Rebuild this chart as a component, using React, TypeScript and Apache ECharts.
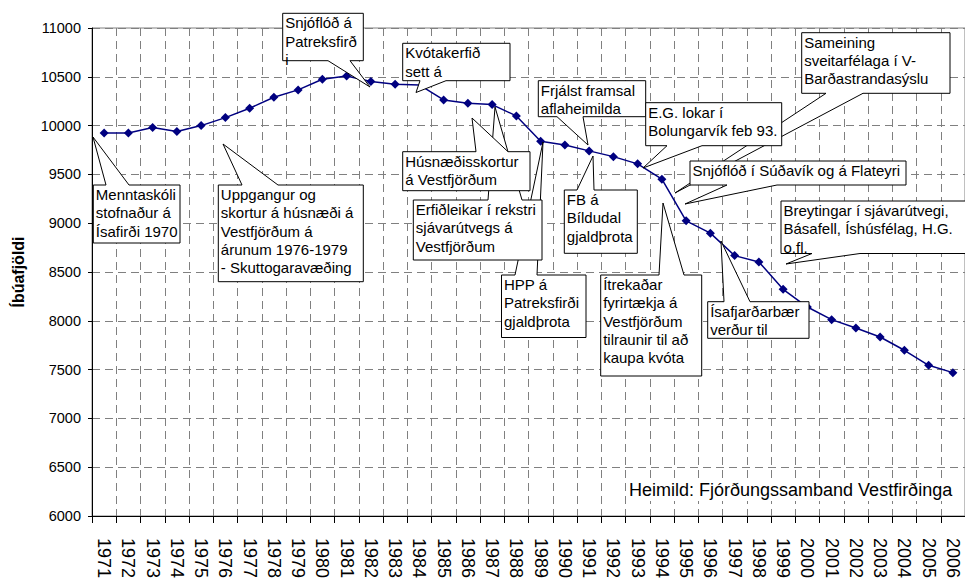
import React, { useEffect, useRef } from "react";
import * as echarts from "echarts";

const years = [
  "1971", "1972", "1973", "1974", "1975", "1976", "1977", "1978", "1979", "1980",
  "1981", "1982", "1983", "1984", "1985", "1986", "1987", "1988", "1989", "1990",
  "1991", "1992", "1993", "1994", "1995", "1996", "1997", "1998", "1999", "2000",
  "2001", "2002", "2003", "2004", "2005", "2006",
];

const population = [
  9925, 9925, 9980, 9939, 10000, 10082, 10178, 10291, 10366, 10475,
  10509, 10451, 10424, 10417, 10263, 10229, 10215, 10099, 9840, 9802,
  9741, 9682, 9608, 9451, 9024, 8898, 8668, 8603, 8323, 8141,
  8012, 7926, 7834, 7698, 7544, 7469,
];

// year whose marker is hidden beneath a callout pointer in the original
const hiddenMarkerYears = ["1984"];

const yTicks = { min: 6000, max: 11000, interval: 500 };
const yAxisTitle = "Íbúafjöldi";
const sourceNote = "Heimild: Fjórðungssamband Vestfirðinga";

type Callout = {
  lines: string[];
  box: [number, number, number, number];
  side: "top" | "bottom";
  base: [number, number];
  tip: [number, number];
};

// Annotation layout (pixel positions of the callout boxes)
const callouts: Callout[] = [
  { lines: ["Menntaskóli", "stofnaður á", "Ísafirði 1970"], box: [93.3, 185, 180, 243], side: "top", base: [106, 129], tip: [93, 137] },
  { lines: ["Uppgangur og", "skortur á húsnæði á", "Vestfjörðum á", "árunum 1976-1979", "- Skuttogaravæðing"], box: [218.3, 185, 363.3, 281.7], side: "top", base: [242, 278], tip: [223, 144] },
  { lines: ["Snjóflóð á", "Patreksfirð", "i"], box: [282.7, 13.3, 363.3, 60.7], side: "bottom", base: [328, 350], tip: [370, 87] },
  { lines: ["Kvótakerfið", "sett á"], box: [402.7, 43.3, 510, 80.7], side: "bottom", base: [420, 446], tip: [416, 92.5] },
  { lines: ["HPP á", "Patreksfirði", "gjaldþrota"], box: [501.5, 275, 586, 337.5], side: "top", base: [515, 537], tip: [543, 142] },
  { lines: ["Erfiðleikar í rekstri", "sjávarútvegs á", "Vestfjörðum"], box: [413.3, 200, 542, 260], side: "top", base: [488, 522], tip: [495, 107] },
  { lines: ["Húsnæðisskortur", "á Vestfjörðum"], box: [402.7, 151.7, 530, 190.7], side: "top", base: [476, 508], tip: [472, 118] },
  { lines: ["Frjálst framsal", "aflaheimilda"], box: [538.3, 80.7, 645.7, 116.7], side: "bottom", base: [557, 583], tip: [588, 145] },
  { lines: ["FB á", "Bíldudal", "gjaldþrota"], box: [564.3, 190, 637.3, 253.3], side: "top", base: [577, 594], tip: [593, 156] },
  { lines: ["Ítrekaðar", "fyrirtækja á", "Vestfjörðum", "tilraunir til að", "kaupa kvóta"], box: [600.7, 275, 701.7, 376], side: "top", base: [659, 684], tip: [663, 203] },
  { lines: ["Ísafjarðarbær", "verður til"], box: [707.7, 301.7, 809, 338.3], side: "top", base: [724, 750], tip: [721, 241] },
  { lines: ["Sameining", "sveitarfélaga í V-", "Barðastrandasýslu"], box: [801.7, 32.7, 950, 93.3], side: "bottom", base: [826, 863], tip: [675, 193] },
  { lines: ["E.G. lokar í", "Bolungarvík feb 93."], box: [645.7, 102.7, 781.7, 145.7], side: "bottom", base: [667, 702], tip: [643, 168] },
  { lines: ["Snjóflóð í Súðavík og á Flateyri"], box: [690, 161, 906, 185], side: "bottom", base: [727, 777], tip: [685, 204] },
  { lines: ["Breytingar í sjávarútvegi,", "Básafell, Íshúsfélag, H.G.", "o.fl."], box: [781, 201, 1000, 253.5], side: "bottom", base: [812, 860], tip: [786, 264] },
];

const FONT = '"Liberation Sans", Arial, Helvetica, sans-serif';

function calloutPoints(c: Callout): number[][] {
  const [l, t, r, b] = c.box;
  const [b1, b2] = c.base;
  if (c.side === "top") {
    return [[l, t], [b1, t], c.tip, [b2, t], [r, t], [r, b], [l, b]];
  }
  return [[l, t], [r, t], [r, b], [b2, b], c.tip, [b1, b], [l, b]];
}

export default function App() {
  const ref = useRef<HTMLDivElement>(null);

  useEffect(() => {
    if (!ref.current) return;
    const chart = echarts.init(ref.current, null, { renderer: "svg" });

    const graphics: any[] = [];
    callouts.forEach((c, i) => {
      graphics.push({
        type: "polygon",
        z: 100 + i * 2,
        silent: true,
        shape: { points: calloutPoints(c) },
        style: { fill: "#ffffff", stroke: "#000000", lineWidth: 1 },
      });
      graphics.push({
        type: "text",
        z: 101 + i * 2,
        silent: true,
        style: {
          text: c.lines.join("\n"),
          x: c.box[0] + 2.5,
          y: c.box[1] + 0.5,
          fill: "#000000",
          fontSize: 15,
          fontFamily: FONT,
          lineHeight: 18.3,
          verticalAlign: "top",
          align: "left",
        },
      });
    });
    graphics.push({
      type: "rect",
      z: 140,
      silent: true,
      shape: { x: 626, y: 478, width: 334, height: 23 },
      style: { fill: "#ffffff" },
    });
    graphics.push({
      type: "text",
      z: 141,
      silent: true,
      style: {
        text: sourceNote,
        x: 629,
        y: 489.5,
        fill: "#000000",
        fontSize: 18,
        fontFamily: FONT,
        verticalAlign: "middle",
        align: "left",
      },
    });

    const seriesData = population.map((v, i) =>
      hiddenMarkerYears.includes(years[i]) ? { value: v, symbol: "none" } : v
    );

    chart.setOption({
      animation: false,
      backgroundColor: "#ffffff",
      grid: {
        left: 92,
        top: 28,
        right: -6,
        bottom: 69,
        show: true,
        borderColor: "#808080",
        borderWidth: 1,
        backgroundColor: "transparent",
      },
      xAxis: {
        type: "category",
        data: years,
        boundaryGap: true,
        axisLine: { show: true, lineStyle: { color: "#000000", width: 1 } },
        axisTick: { show: true, interval: 0, length: 7, lineStyle: { color: "#000000" } },
        axisLabel: {
          interval: 0,
          rotate: -90,
          margin: 22,
          fontSize: 18,
          fontFamily: FONT,
          color: "#000000",
          padding: [11, 0, 0, 0],
        },
        splitLine: {
          show: true,
          interval: 0,
          lineStyle: { color: "#808080", type: [8, 5], width: 1 },
        },
      },
      yAxis: {
        type: "value",
        min: yTicks.min,
        max: yTicks.max,
        interval: yTicks.interval,
        name: yAxisTitle,
        nameLocation: "middle",
        nameGap: 66,
        nameTextStyle: {
          fontSize: 16,
          fontWeight: "bold",
          fontFamily: FONT,
          color: "#000000",
        },
        axisLine: { show: true, lineStyle: { color: "#000000", width: 1 } },
        axisTick: { show: true, length: 4, lineStyle: { color: "#000000" } },
        axisLabel: {
          margin: 11,
          fontSize: 14.5,
          fontFamily: FONT,
          color: "#000000",
          formatter: (v: number) => String(v),
        },
        splitLine: {
          show: true,
          lineStyle: { color: "#808080", type: [8, 5], width: 1 },
        },
      },
      series: [
        {
          type: "line",
          data: seriesData,
          symbol: "diamond",
          symbolSize: 9,
          showAllSymbol: true,
          itemStyle: { color: "#000080" },
          lineStyle: { color: "#000080", width: 1.5 },
          z: 5,
        },
      ],
      graphic: graphics,
    });

    return () => {
      chart.dispose();
    };
  }, []);

  return (
    <div
      ref={ref}
      style={{ position: "absolute", left: 0, top: 0, width: 965, height: 585, overflow: "hidden" }}
    />
  );
}
